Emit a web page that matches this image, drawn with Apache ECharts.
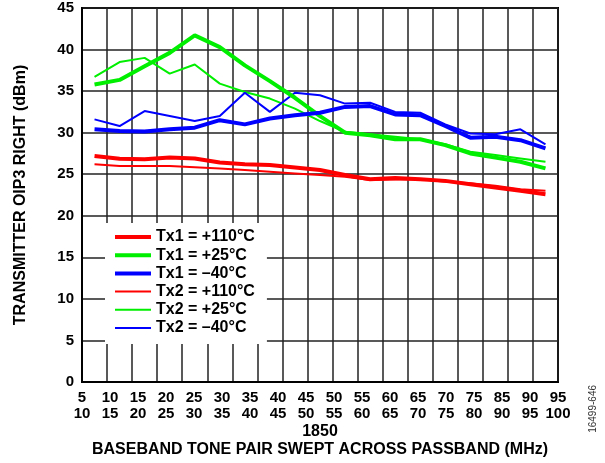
<!DOCTYPE html>
<html>
<head>
<meta charset="utf-8">
<script src="https://cdn.jsdelivr.net/npm/echarts@6/dist/echarts.min.js"></script>
<style>
html,body{margin:0;padding:0;background:#fff;}
#c{width:605px;height:463px;}
</style>
</head>
<body>
<div id="c"></div>
<script>
// Tone pair centre frequencies (MHz offset)
var xs = [7.5,12.5,17.5,22.5,27.5,32.5,37.5,42.5,47.5,52.5,57.5,62.5,67.5,72.5,77.5,82.5,87.5,92.5,97.5];
// Tick labels (two rows)
var topLabels = ['5','10','15','20','25','30','35','40','45','50','55','60','65','70','75','85','90','95'];
var bottomLabels = ['10','15','20','25','30','35','40','45','50','55','60','65','70','75','80','90','95','100'];
var yTicks = [0,5,10,15,20,25,30,35,40,45];

var tx1_110 = [27.2,26.85,26.8,27.0,26.9,26.4,26.2,26.1,25.8,25.5,24.9,24.4,24.55,24.4,24.2,23.8,23.4,23.0,22.6];
var tx1_25  = [35.8,36.35,38.0,39.6,41.7,40.3,38.1,36.2,34.2,32.0,30.0,29.7,29.2,29.2,28.5,27.5,27.0,26.5,25.7];
var tx1_m40 = [30.4,30.2,30.15,30.4,30.6,31.5,31.0,31.7,32.1,32.4,33.1,33.2,32.2,32.1,30.8,29.4,29.5,29.1,28.1];
var tx2_110 = [26.2,26.0,26.0,26.0,25.85,25.7,25.5,25.3,25.1,24.9,24.7,24.3,24.35,24.4,24.1,23.9,23.6,23.2,23.0];
var tx2_25  = [36.7,38.5,39.0,37.1,38.2,35.9,34.9,34.1,32.9,31.4,30.1,29.8,29.5,29.2,28.6,27.7,27.3,26.9,26.5];
var tx2_m40 = [31.6,30.8,32.6,32.0,31.4,32.0,34.8,32.5,34.8,34.5,33.5,33.6,32.5,32.4,31.0,29.9,29.8,30.4,28.6];

var names = ['Tx1 = +110°C','Tx1 = +25°C','Tx1 = –40°C','Tx2 = +110°C','Tx2 = +25°C','Tx2 = –40°C'];
var values = [tx1_110, tx1_25, tx1_m40, tx2_110, tx2_25, tx2_m40];
var colors = ['#ff0000','#00ee00','#0000ff','#ff0000','#00ee00','#0000ff'];
var widths = [4,4,4,2,2,2];

var FONT = 'Liberation Sans, Arial, sans-serif';

function pairs(v){ return v.map(function(y,i){ return [xs[i], y]; }); }

var series = names.map(function(n,i){
  return {
    name: n, type: 'line', xAxisIndex: 0, yAxisIndex: 0,
    data: pairs(values[i]), symbol: 'none', smooth: false,
    lineStyle: {color: colors[i], width: widths[i]},
    itemStyle: {color: colors[i]},
    z: 3 + (i < 3 ? 1 : 0)
  };
});

var legendData = names.map(function(n,i){
  return {name: n, icon: widths[i] > 3 ? 'path://M0,0H36V4H0Z' : 'path://M0,0H36V2H0Z'};
});

var chart = echarts.init(document.getElementById('c'), null, {renderer:'canvas'});
chart.setOption({
  animation: false,
  backgroundColor: '#fff',
  textStyle: {fontFamily: FONT},
  grid: {left: 82, right: 47, top: 8, bottom: 81, containLabel: false, outerBoundsMode: 'none',
         show: true, borderColor: '#000', borderWidth: 2, backgroundColor: 'transparent'},
  legend: {
    data: legendData, orient: 'vertical', left: 105, top: 223,
    backgroundColor: '#fff', padding: [6,12,8,10],
    itemWidth: 36, itemHeight: 14, itemGap: 2.2, symbolKeepAspect: true,
    itemStyle: {borderWidth: 0},
    textStyle: {fontFamily: FONT, fontWeight: 'bold', fontSize: 16, lineHeight: 16, color: '#000'},
    selectedMode: false
  },
  xAxis: [{
    type: 'value', min: 5, max: 100, interval: 5,
    axisLabel: {show: false}, axisTick: {show: false},
    axisLine: {show: true, lineStyle: {color: '#000', width: 2}},
    splitLine: {show: true, lineStyle: {color: '#222', width: 1.5}}
  },{
    type: 'category', data: topLabels, boundaryGap: false, position: 'bottom',
    axisLine: {show: false}, axisTick: {show: false}, splitLine: {show: false},
    axisLabel: {
      interval: 0, margin: 8, fontFamily: FONT, fontWeight: 'bold', fontSize: 15, color: '#000', lineHeight: 16,
      formatter: function(v, i){ return v + '\n' + bottomLabels[i]; }
    },
    name: '1850\nBASEBAND TONE PAIR SWEPT ACROSS PASSBAND (MHz)',
    nameLocation: 'middle', nameGap: 41, nameMoveOverlap: false,
    nameTextStyle: {fontFamily: FONT, fontWeight: 'bold', fontSize: 16, color: '#000', lineHeight: 18, verticalAlign: 'top'}
  }],
  yAxis: [{
    type: 'value', min: 0, max: 45, interval: 5,
    axisLine: {show: true, lineStyle: {color: '#000', width: 2}},
    axisTick: {show: false},
    axisLabel: {fontFamily: FONT, fontWeight: 'bold', fontSize: 15, color: '#000', margin: 8},
    splitLine: {show: true, lineStyle: {color: '#222', width: 1.5}},
    name: 'TRANSMITTER OIP3 RIGHT (dBm)', nameLocation: 'middle', nameGap: 53, nameMoveOverlap: false,
    nameTextStyle: {fontFamily: FONT, fontWeight: 'bold', fontSize: 16, color: '#000'}
  }],
  graphic: [{
    type: 'text', left: 588, top: 385, rotation: Math.PI/2,
    style: {text: '16499-646', fontFamily: FONT, fontSize: 10, fill: '#333'}
  }],
  series: series
});
</script>
</body>
</html>
